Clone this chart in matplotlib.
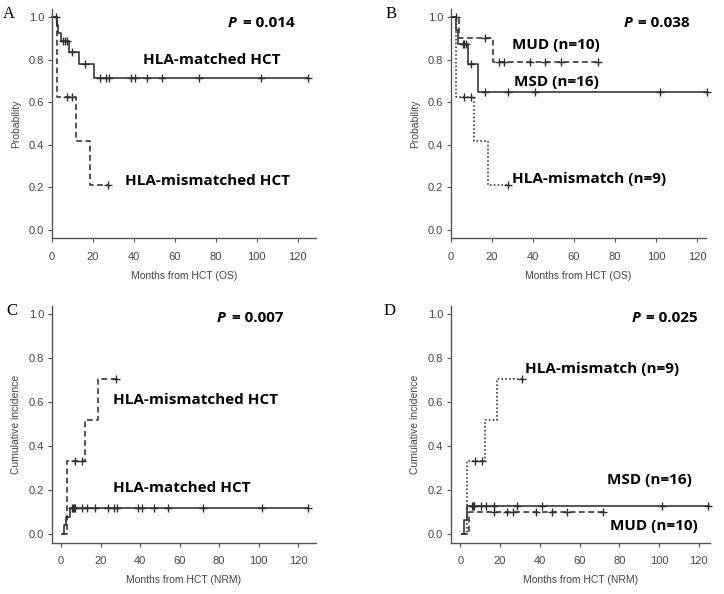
import numpy as np
import matplotlib
matplotlib.use('Agg')
from matplotlib import pyplot as plt
from matplotlib import font_manager

# ---- data ----
# A: overall survival, matched vs mismatched
a_match_t = [0, 2.3, 3.1, 4.4, 8.3, 13.3, 20.6, 125]
a_match_s = [1.0, 0.962, 0.923, 0.885, 0.836, 0.78, 0.715, 0.715]
a_match_cens = [5.5, 6.3, 7.2, 9.9, 16.1, 23.4, 26.5, 27.8, 38.6, 40.5, 46.3, 53.7, 71.7, 102, 125]
a_mis_t = [0, 2.6, 11.7, 18.5, 27.5]
a_mis_s = [1.0, 0.625, 0.417, 0.208, 0.208]
a_mis_cens = [2.0, 7.1, 10.0, 27.5]

# B: overall survival, MSD / MUD / mismatch
b_msd_t = [0, 2.4, 3.2, 8.5, 13.0, 125]
b_msd_s = [1.0, 0.9375, 0.875, 0.778, 0.648, 0.648]
b_msd_cens = [5.8, 6.5, 7.2, 10.0, 16.7, 27.8, 40.8, 101.8, 125]
b_mud_t = [0, 4.0, 20.5, 71.7]
b_mud_s = [1.0, 0.9, 0.788, 0.788]
b_mud_cens = [16.7, 23.3, 25.7, 38.7, 46.0, 53.8, 71.7]
b_mis_t = [0, 2.6, 11.2, 18.0, 27.6]
b_mis_s = [1.0, 0.625, 0.417, 0.208, 0.208]
b_mis_cens = [2.2, 6.2, 9.9, 27.6]

# C: NRM, matched vs mismatched
c_mis_t = [0.5, 3.2, 12.2, 18.6, 27.8]
c_mis_ci = [0.0, 0.333, 0.52, 0.705, 0.705]
c_mis_cens = [7.1, 10.5, 27.8]
c_match_t = [0.3, 1.5, 2.5, 4.6, 125]
c_match_ci = [0.0, 0.038, 0.077, 0.115, 0.115]
c_match_cens = [5.5, 6.0, 6.5, 7.0, 10.5, 13.3, 17.2, 24, 26.8, 28.5, 38.8, 40.8, 47, 54, 72, 102, 125]

# D: NRM, MSD / MUD / mismatch
d_mis_t = [0.5, 3.3, 12.2, 18.6, 31]
d_mis_ci = [0.0, 0.333, 0.52, 0.705, 0.705]
d_mis_cens = [7.4, 11.0, 31]
d_msd_t = [0.7, 1.8, 3.2, 125]
d_msd_ci = [0.0, 0.0625, 0.125, 0.125]
d_msd_cens = [5.8, 6.3, 6.8, 10.5, 13, 17.2, 28.5, 41, 101.5, 124.5]
d_mud_t = [1.0, 4.5, 72]
d_mud_ci = [0.0, 0.1, 0.1]
d_mud_cens = [16.8, 23.5, 26.5, 38, 46, 53.8, 71.8]

pvals = ['0.014', '0.038', '0.007', '0.025']

LC = '#2e2e2e'
SOLID = '-'
DASH = (0, (3.6, 2.2))
DOT = (0, (1.0, 1.4))

# pick a bold sans that really has a bold face
BOLD_FAM = 'Liberation Sans'
for fam in ['Open Sans', 'Noto Sans', 'Lato', 'Roboto']:
    f = font_manager.findfont(font_manager.FontProperties(family=fam, weight='bold'),
                              fallback_to_default=False)
    if 'bold' in f.lower():
        BOLD_FAM = fam
        break

W, H = 724, 594
fig = plt.figure(figsize=(W / 100, H / 100), dpi=100)
plt.rcParams['font.family'] = ['Liberation Sans', 'DejaVu Sans']
FS = 11


def make_ax(left, right, top, bottom):
    ax = fig.add_axes([left / W, 1 - bottom / H, (right - left) / W, (bottom - top) / H])
    for s in ['top', 'right']:
        ax.spines[s].set_visible(False)
    for s in ['left', 'bottom']:
        ax.spines[s].set_color('#555555')
        ax.spines[s].set_linewidth(1.0)
    ax.tick_params(direction='out', length=3, width=0.8, colors='#555555',
                   labelcolor='#444444', labelsize=8)
    ax.tick_params(axis='x', pad=7)
    ax.tick_params(axis='y', pad=2.5)
    ax.set_xticks([0, 20, 40, 60, 80, 100, 120])
    ax.set_yticks([0, 0.2, 0.4, 0.6, 0.8, 1.0])
    ax.set_yticklabels(['0.0', '0.2', '0.4', '0.6', '0.8', '1.0'])
    ax.set_ylim(-0.04, 1.04)
    return ax


def curve(ax, t, v, cens, ls):
    ax.plot(t, v, drawstyle='steps-post', color=LC, lw=1.15, linestyle=ls, clip_on=False)
    idx = np.searchsorted(t, cens, side='right') - 1
    cy = np.array(v)[idx]
    ax.plot(cens, cy, linestyle='none', marker='+', ms=6, mew=1.0, color=LC, clip_on=False)


def ptext(ax, x, y, p):
    ax.text(x, y, 'P', fontsize=FS, fontweight='bold', style='italic',
            family=[BOLD_FAM], va='center', color='black')
    ax.annotate('= ' + p, xy=(x, y), xytext=(10.5, 0), textcoords='offset points',
                fontsize=FS, fontweight='bold', family=[BOLD_FAM], va='center')


def label(ax, x, y, s):
    ax.text(x, y, s, fontsize=FS, fontweight='bold', family=[BOLD_FAM],
            va='center', ha='left', color='black')


def axis_labels(ax, xl, yl):
    ax.set_xlabel(xl, fontsize=7.5, color='#444444', labelpad=6.5)
    ax.set_ylabel(yl, fontsize=7.5, color='#444444', labelpad=6)


# A
axA = make_ax(52, 316, 8.5, 238)
axA.set_xlim(0, 129)
curve(axA, a_match_t, a_match_s, a_match_cens, SOLID)
curve(axA, a_mis_t, a_mis_s, a_mis_cens, DASH)
ptext(axA, 86, 0.973, pvals[0])
label(axA, 44.5, 0.80, 'HLA-matched HCT')
label(axA, 35.6, 0.228, 'HLA-mismatched HCT')
axis_labels(axA, 'Months from HCT (OS)', 'Probability')

# B
axB = make_ax(451, 706, 8.5, 238)
axB.set_xlim(0, 124.4)
curve(axB, b_msd_t, b_msd_s, b_msd_cens, SOLID)
curve(axB, b_mud_t, b_mud_s, b_mud_cens, DASH)
curve(axB, b_mis_t, b_mis_s, b_mis_cens, DOT)
ptext(axB, 84.2, 0.973, pvals[1])
label(axB, 29.8, 0.868, 'MUD (n=10)')
label(axB, 30.6, 0.695, 'MSD (n=16)')
label(axB, 30.0, 0.236, 'HLA-mismatch (n=9)')
axis_labels(axB, 'Months from HCT (OS)', 'Probability')

# C
axC = make_ax(52, 316, 305.5, 542.5)
axC.set_xlim(-4.56, 129.1)
curve(axC, c_mis_t, c_mis_ci, c_mis_cens, DASH)
curve(axC, c_match_t, c_match_ci, c_match_cens, SOLID)
ptext(axC, 79, 0.981, pvals[2])
label(axC, 26.5, 0.61, 'HLA-mismatched HCT')
label(axC, 26.5, 0.21, 'HLA-matched HCT')
axis_labels(axC, 'Months from HCT (NRM)', 'Cumulative incidence')

# D
axD = make_ax(451, 710, 305.5, 542.5)
axD.set_xlim(-4.68, 125.6)
curve(axD, d_mis_t, d_mis_ci, d_mis_cens, DOT)
curve(axD, d_msd_t, d_msd_ci, d_msd_cens, SOLID)
curve(axD, d_mud_t, d_mud_ci, d_mud_cens, DASH)
ptext(axD, 86, 0.981, pvals[3])
label(axD, 32.7, 0.749, 'HLA-mismatch (n=9)')
label(axD, 73.8, 0.243, 'MSD (n=16)')
label(axD, 75.5, 0.033, 'MUD (n=10)')
axis_labels(axD, 'Months from HCT (NRM)', 'Cumulative incidence')

# panel letters
for s, x, y in [('A', 9, 14), ('B', 391, 14), ('C', 12, 311), ('D', 390, 311)]:
    fig.text(x / W, 1 - y / H, s, fontsize=12, family=['Liberation Serif'],
             ha='center', va='center')

fig.savefig('out.png', dpi=100)
